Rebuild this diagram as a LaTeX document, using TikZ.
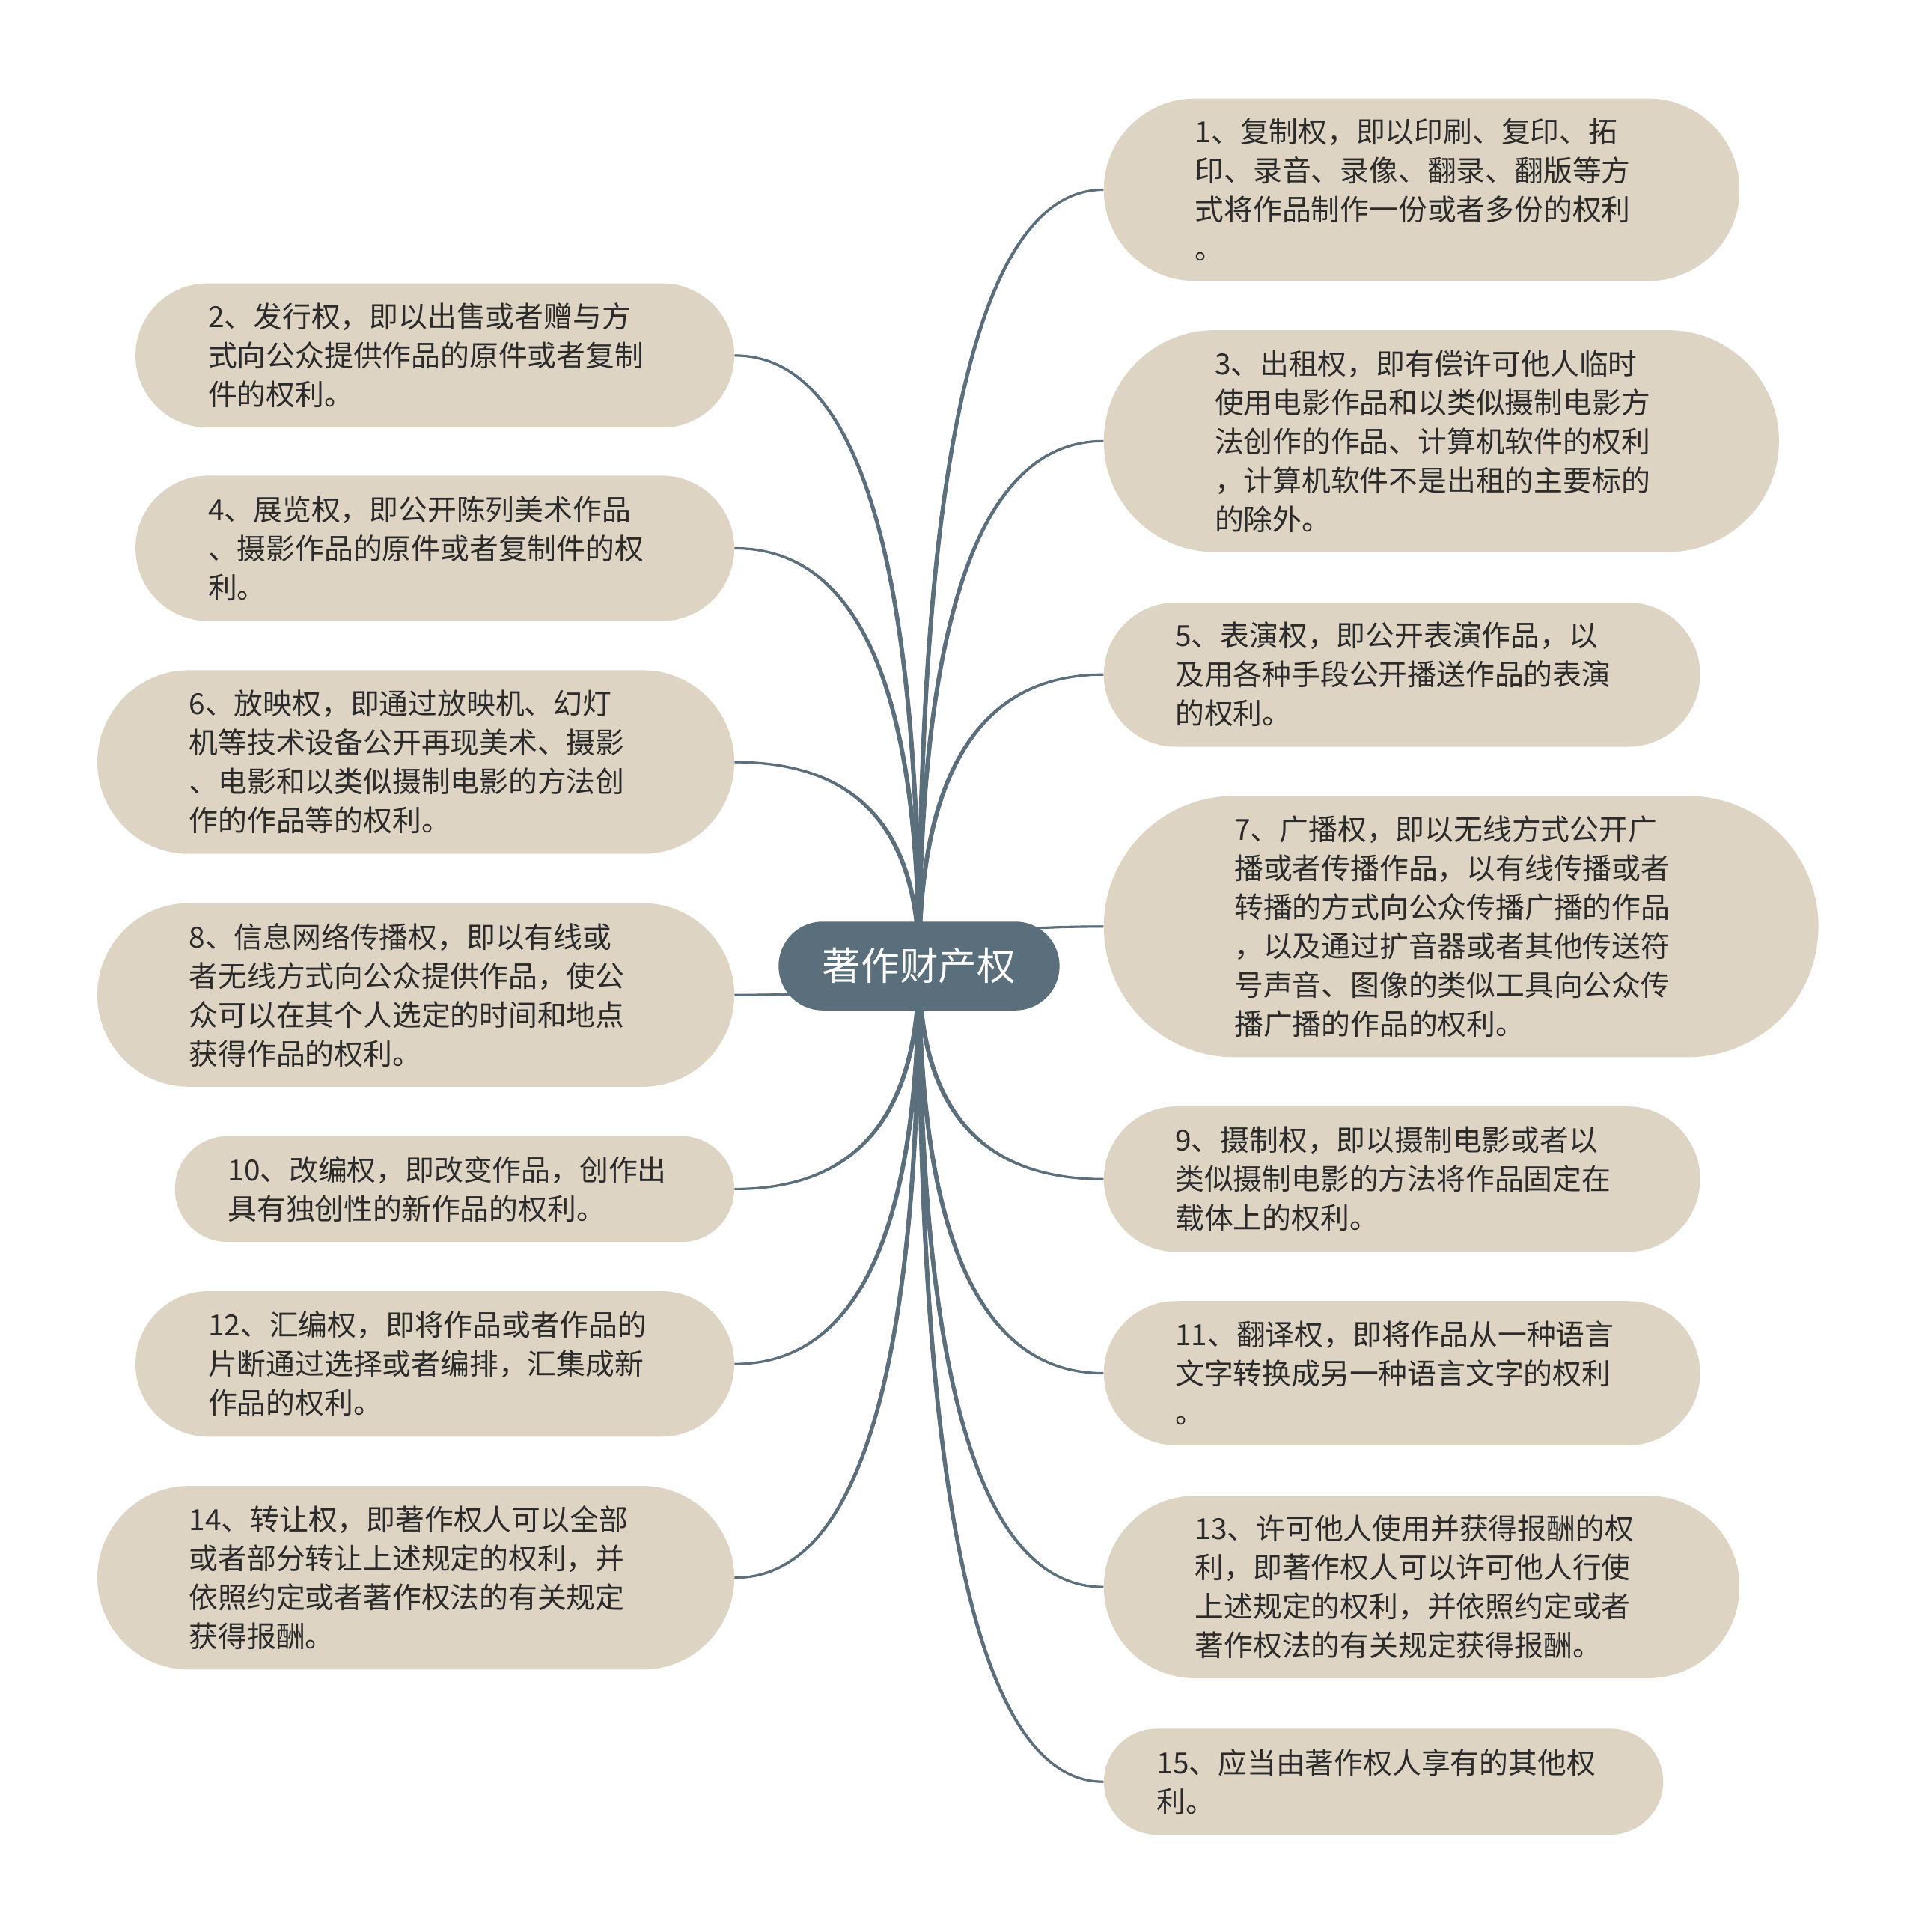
\documentclass[tikz,border=0pt]{standalone}
\usepackage{fontspec}
\usetikzlibrary{calc}
\newfontfamily\cjk{Noto Sans CJK SC}
\definecolor{lc}{HTML}{5B6E7C}
\definecolor{nf}{HTML}{DED4C3}
\definecolor{tc}{HTML}{2B2B2B}
\pgfdeclarelayer{bg}
\pgfsetlayers{bg,main}
\newcommand\branch[3]{%
  \coordinate (bk) at (c|-#1.#2);
  \coordinate (sA) at ($(c)+(-1.6,0)$);
  \coordinate (kA) at ($(bk)+(-1.6,{(#3)*0.7})$);
  \coordinate (eA) at ($(#1.#2)+(0,{(#3)*0.7})$);
  \coordinate (sB) at ($(c)+(1.6,0)$);
  \coordinate (kB) at ($(bk)+(1.6,{-1*(#3)*0.7})$);
  \coordinate (eB) at ($(#1.#2)+(0,{-1*(#3)*0.7})$);
  \filldraw[lc, line width=0.2pt] (sA) .. controls ($(sA)!2/3!(kA)$) and ($(eA)!2/3!(kA)$) .. (eA)
     -- (eB) .. controls ($(eB)!2/3!(kB)$) and ($(sB)!2/3!(kB)$) .. (sB) -- cycle;
}
\begin{document}
\begin{tikzpicture}[x=0.41158pt,y=-0.41158pt,
  leaf/.style 2 args={rectangle, fill=nf, inner sep=0pt,
    minimum width=#1*0.41158pt, minimum height=#2*0.41158pt,
    rounded corners=#2*0.2055pt,
    text width=368*0.41158pt, align=left, text=tc,
    font=\cjk\fontsize{9.7pt}{13pt}\selectfont},
  root/.style={rectangle, fill=lc, inner sep=0pt,
    minimum width=228*0.41158pt, minimum height=72*0.41158pt,
    rounded corners=36*0.41*0.999pt, text=white,
    font=\cjk\fontsize{12.9pt}{15pt}\selectfont}]
\useasboundingbox (0,0) rectangle (1555,1568);

\node[root] (c) at (746,784) {著作财产权};

% right side
\node[leaf={516}{148}] (n1) at (1154,154) {1、复制权，即以印刷、复印、拓\\印、录音、录像、翻录、翻版等方\\式将作品制作一份或者多份的权利\\。};
\node[leaf={548}{180}] (n3) at (1170,358) {3、出租权，即有偿许可他人临时\\使用电影作品和以类似摄制电影方\\法创作的作品、计算机软件的权利\\，计算机软件不是出租的主要标的\\的除外。};
\node[leaf={484}{117}] (n5) at (1138,547.5) {5、表演权，即公开表演作品，以\\及用各种手段公开播送作品的表演\\的权利。};
\node[leaf={580}{212}] (n7) at (1186,752) {7、广播权，即以无线方式公开广\\播或者传播作品，以有线传播或者\\转播的方式向公众传播广播的作品\\，以及通过扩音器或者其他传送符\\号声音、图像的类似工具向公众传\\播广播的作品的权利。};
\node[leaf={484}{118}] (n9) at (1138,957) {9、摄制权，即以摄制电影或者以\\类似摄制电影的方法将作品固定在\\载体上的权利。};
\node[leaf={484}{117}] (n11) at (1138,1114.5) {11、翻译权，即将作品从一种语言\\文字转换成另一种语言文字的权利\\。};
\node[leaf={516}{148}] (n13) at (1154,1288) {13、许可他人使用并获得报酬的权\\利，即著作权人可以许可他人行使\\上述规定的权利，并依照约定或者\\著作权法的有关规定获得报酬。};
\node[leaf={454}{86}] (n15) at (1123,1446) {15、应当由著作权人享有的其他权\\利。};

% left side
\node[leaf={486}{117}] (n2) at (353,288.5) {2、发行权，即以出售或者赠与方\\式向公众提供作品的原件或者复制\\件的权利。};
\node[leaf={486}{118}] (n4) at (353,445) {4、展览权，即公开陈列美术作品\\、摄影作品的原件或者复制件的权\\利。};
\node[leaf={517}{149}] (n6) at (337.5,618.5) {6、放映权，即通过放映机、幻灯\\机等技术设备公开再现美术、摄影\\、电影和以类似摄制电影的方法创\\作的作品等的权利。};
\node[leaf={517}{149}] (n8) at (337.5,807.5) {8、信息网络传播权，即以有线或\\者无线方式向公众提供作品，使公\\众可以在其个人选定的时间和地点\\获得作品的权利。};
\node[leaf={454}{86}] (n10) at (369,965) {10、改编权，即改变作品，创作出\\具有独创性的新作品的权利。};
\node[leaf={486}{118}] (n12) at (353,1107) {12、汇编权，即将作品或者作品的\\片断通过选择或者编排，汇集成新\\作品的权利。};
\node[leaf={517}{149}] (n14) at (337.5,1280.5) {14、转让权，即著作权人可以全部\\或者部分转让上述规定的权利，并\\依照约定或者著作权法的有关规定\\获得报酬。};

\begin{pgfonlayer}{bg}
\fill[white] (0,0) rectangle (1555,1568);
\branch{n1}{west}{-1}
\branch{n3}{west}{-1}
\branch{n5}{west}{-1}
\branch{n7}{west}{-1}
\branch{n9}{west}{1}
\branch{n11}{west}{1}
\branch{n13}{west}{1}
\branch{n15}{west}{1}
\branch{n2}{east}{1}
\branch{n4}{east}{1}
\branch{n6}{east}{1}
\branch{n8}{east}{-1}
\branch{n10}{east}{-1}
\branch{n12}{east}{-1}
\branch{n14}{east}{-1}
\end{pgfonlayer}
\end{tikzpicture}
\end{document}
